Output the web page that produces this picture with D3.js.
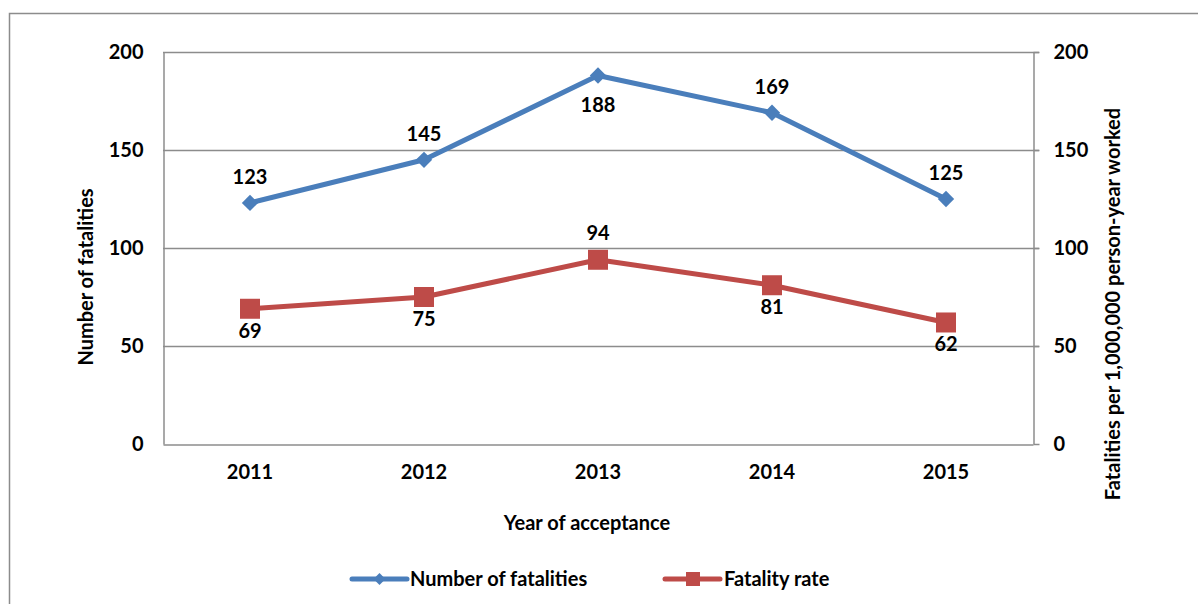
<!DOCTYPE html>
<html>
<head>
<meta charset="utf-8">
<script src="https://cdn.jsdelivr.net/npm/d3@7"></script>
<style>
  body { margin: 0; background: #fff; }
  text { font-family: Lato, "Open Sans", sans-serif; font-weight: bold; fill: #000; }
</style>
</head>
<body>
<div id="chart"></div>
<script>
const years = ["2011", "2012", "2013", "2014", "2015"];
const fatalities = [123, 145, 188, 169, 125];
const fatalityRate = [69, 75, 94, 81, 62];
const yTicks = [0, 50, 100, 150, 200];
// label sits above (-1) or below (+1) the point
const fatalPos = [-1, -1, 1, -1, -1];
const ratePos = [1, 1, -1, 1, 1];

const width = 1198, height = 604;
const m = { left: 163, right: 1033, top: 52, bottom: 444 };
const blue = "#4a7ebb", red = "#be4b48";
const fs = "20px";

const svg = d3.select("#chart").append("svg")
  .attr("width", width)
  .attr("height", height);

// outer frame
svg.append("rect")
  .attr("x", 9.5).attr("y", 13.5)
  .attr("width", 1200).attr("height", 600)
  .attr("fill", "none").attr("stroke", "#8c8c8c").attr("stroke-width", 1.5);

const x = d3.scaleBand().domain(years).range([m.left, m.right]);
const yL = d3.scaleLinear().domain([0, 200]).range([m.bottom, m.top]);
const yR = d3.scaleLinear().domain([0, 200]).range([m.bottom, m.top]);

// gridlines
svg.append("g").selectAll("line")
  .data(yTicks.filter(d => d > 0))
  .enter().append("line")
  .attr("x1", m.left).attr("x2", m.right + 6)
  .attr("y1", d => yL(d) + 0.5).attr("y2", d => yL(d) + 0.5)
  .attr("stroke", "#8c8c8c").attr("stroke-width", 1.5);

// left axis
const gl = svg.append("g")
  .attr("transform", `translate(${m.left + 0.5},0)`)
  .call(d3.axisLeft(yL).tickValues(yTicks).tickSize(0).tickPadding(20));
gl.select(".domain").attr("stroke", "#8c8c8c").attr("stroke-width", 1.5);
gl.selectAll("text").attr("font-size", fs).style("font-family", "Lato").style("font-weight", "bold");

// right axis
const gr = svg.append("g")
  .attr("transform", `translate(${m.right + 0.5},0)`)
  .call(d3.axisRight(yR).tickValues(yTicks).tickSizeInner(6).tickSizeOuter(0).tickPadding(14));
gr.select(".domain").attr("stroke", "#8c8c8c").attr("stroke-width", 1.5);
gr.selectAll(".tick line").attr("stroke", "#8c8c8c").attr("stroke-width", 1.5);
gr.selectAll("text").attr("font-size", fs).style("font-family", "Lato").style("font-weight", "bold");

// bottom axis
const gb = svg.append("g")
  .attr("transform", `translate(0,${m.bottom + 0.5})`)
  .call(d3.axisBottom(x).tickSize(0).tickPadding(20));
gb.select(".domain").attr("stroke", "#8c8c8c").attr("stroke-width", 1.5);
gb.selectAll("text").attr("font-size", fs).style("font-family", "Lato").style("font-weight", "bold");

// axis titles
svg.append("text")
  .attr("transform", `translate(93,277) rotate(-90)`)
  .attr("text-anchor", "middle").attr("font-size", fs)
  .text("Number of fatalities");
svg.append("text")
  .attr("transform", `translate(1120,304) rotate(-90)`)
  .attr("text-anchor", "middle").attr("font-size", fs)
  .text("Fatalities per 1,000,000 person-year worked");
svg.append("text")
  .attr("x", 587).attr("y", 530)
  .attr("text-anchor", "middle").attr("font-size", fs)
  .text("Year of acceptance");

const cx = i => x(years[i]) + x.bandwidth() / 2;

// fatalities line
const lineL = d3.line().x((d, i) => cx(i)).y(d => yL(d));
svg.append("path")
  .attr("d", lineL(fatalities))
  .attr("fill", "none").attr("stroke", blue).attr("stroke-width", 5)
  .attr("stroke-linejoin", "round");
svg.append("g").selectAll("path")
  .data(fatalities).enter().append("path")
  .attr("d", d3.symbol().type(d3.symbolDiamond2).size(170))
  .attr("transform", (d, i) => `translate(${cx(i)},${yL(d)})`)
  .attr("fill", blue);
svg.append("g").selectAll("text")
  .data(fatalities).enter().append("text")
  .attr("x", (d, i) => cx(i))
  .attr("y", (d, i) => yL(d) + (fatalPos[i] < 0 ? -19 : 36))
  .attr("text-anchor", "middle").attr("font-size", fs)
  .text(d => d);

// fatality rate line
const lineR = d3.line().x((d, i) => cx(i)).y(d => yR(d));
svg.append("path")
  .attr("d", lineR(fatalityRate))
  .attr("fill", "none").attr("stroke", red).attr("stroke-width", 5)
  .attr("stroke-linejoin", "round");
svg.append("g").selectAll("rect")
  .data(fatalityRate).enter().append("rect")
  .attr("x", (d, i) => cx(i) - 10).attr("y", d => yR(d) - 10)
  .attr("width", 20).attr("height", 20)
  .attr("fill", red);
svg.append("g").selectAll("text")
  .data(fatalityRate).enter().append("text")
  .attr("x", (d, i) => cx(i))
  .attr("y", (d, i) => yR(d) + (ratePos[i] < 0 ? -20 : 29))
  .attr("text-anchor", "middle").attr("font-size", fs)
  .text(d => d);

// legend
const legY = 579;
const lg = svg.append("g");
lg.append("line").attr("x1", 352).attr("x2", 407).attr("y1", legY).attr("y2", legY)
  .attr("stroke", blue).attr("stroke-width", 5).attr("stroke-linecap", "round");
lg.append("path").attr("d", d3.symbol().type(d3.symbolDiamond2).size(90))
  .attr("transform", `translate(379.5,${legY})`).attr("fill", blue);
lg.append("text").attr("x", 410).attr("y", legY + 7).attr("font-size", fs)
  .text("Number of fatalities");
lg.append("line").attr("x1", 665).attr("x2", 720).attr("y1", legY).attr("y2", legY)
  .attr("stroke", red).attr("stroke-width", 5).attr("stroke-linecap", "round");
lg.append("rect").attr("x", 686).attr("y", legY - 7).attr("width", 14).attr("height", 14)
  .attr("fill", red);
lg.append("text").attr("x", 724).attr("y", legY + 7).attr("font-size", fs)
  .text("Fatality rate");
</script>
</body>
</html>
